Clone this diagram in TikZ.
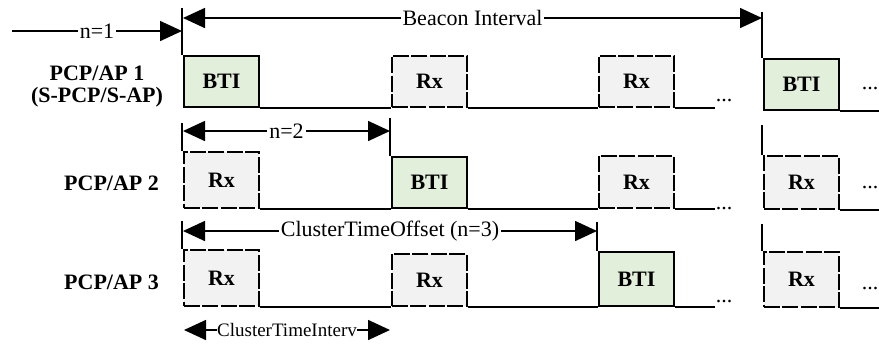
\documentclass[tikz,border=0pt]{standalone}
\usepackage{fontspec}
\setmainfont{Liberation Serif}
\usetikzlibrary{positioning,arrows.meta}

\definecolor{btigreen}{HTML}{E2EFDA}
\definecolor{rxgray}{HTML}{F2F2F2}

\newcommand{\figfont}{\fontsize{11}{13}\selectfont}

\tikzset{
    slot/.style={draw, line width=1pt, minimum width=37.5pt, minimum height=25.5pt,
        anchor=south west, inner sep=0pt, font=\figfont\bfseries},
    bti/.style={slot, fill=btigreen},
    rx/.style={slot, fill=rxgray, dash pattern=on 8pt off 1.2pt},
    timeline/.style={line width=1pt},
    bound/.style={line width=0.8pt},
    spanarrow/.style={line width=0.8pt,
        {Triangle[length=11pt,width=10pt]}-{Triangle[length=11pt,width=10pt]}},
    onearrow/.style={line width=0.8pt, -{Triangle[length=11pt,width=10pt]}},
    spanlabel/.style={midway, fill=white, inner sep=1pt},
    rowlabel/.style={font=\figfont\bfseries, anchor=east},
}

\begin{document}
\begin{tikzpicture}[x=0.5pt, y=-0.5pt, font=\figfont]
    \useasboundingbox (0,0) rectangle (879,344);

    % Row labels
    \node[font=\figfont\bfseries, align=center, inner sep=0pt] (ap1) at (97,87) {PCP/AP 1\\[-2pt](S-PCP/S-AP)};
    \node[rowlabel] (ap2) at (166,183) {PCP/AP 2};
    \node[rowlabel] (ap3) at (166,282) {PCP/AP 3};

    % PCP/AP 1
    \node[bti] (a1) at (183,108) {BTI};
    \node[rx] (a2) at (391,108) {Rx};
    \node[rx] (a3) at (598,108) {Rx};
    \node[bti] (a4) at (763,111) {BTI};
    \coordinate (a3e) at (715,108);
    \coordinate (a4e) at (879,111);
    \draw[timeline] (a1.south east) -- (a2.south west)
        (a2.south east) -- (a3.south west) (a3.south east) -- (a3e);
    \draw[timeline] (a4.south east) -- (a4e);
    \node[anchor=base] (da3) at (724,101) {...};
    \node[anchor=base] (da4) at (870,89) {...};

    % PCP/AP 2
    \node[rx, minimum height=28pt] (b1) at (183,209) {Rx};
    \node[bti] (b2) at (391,209) {BTI};
    \node[rx, minimum height=26pt] (b3) at (598,209) {Rx};
    \node[rx, minimum height=26.5pt] (b4) at (763,210) {Rx};
    \coordinate (b3e) at (715,209);
    \coordinate (b4e) at (879,210);
    \draw[timeline] (b1.south east) -- (b2.south west)
        (b2.south east) -- (b3.south west) (b3.south east) -- (b3e);
    \draw[timeline] (b4.south east) -- (b4e);
    \node[anchor=base] (db3) at (724,209) {...};
    \node[anchor=base] (db4) at (870,188) {...};

    % PCP/AP 3
    \node[rx, minimum height=28pt] (c1) at (183,307) {Rx};
    \node[rx, minimum height=26pt] (c2) at (391,307) {Rx};
    \node[bti, minimum height=27pt] (c3) at (598,307) {BTI};
    \node[rx, minimum height=27.5pt] (c4) at (763,308) {Rx};
    \coordinate (c3e) at (715,307);
    \coordinate (c4e) at (879,308);
    \draw[timeline] (c1.south east) -- (c2.south west)
        (c2.south east) -- (c3.south west) (c3.south east) -- (c3e);
    \draw[timeline] (c4.south east) -- (c4e);
    \node[anchor=base] (dc3) at (724,302) {...};
    \node[anchor=base] (dc4) at (870,289) {...};

    % Boundaries
    \coordinate (ta) at (182,8);
    \coordinate (tb) at (762,12);
    \draw[bound] (ta) -- (ta |- a1.north);
    \draw[bound] (tb) -- (tb |- a4.north);
    \coordinate (tc) at (182,123);
    \coordinate (td) at (390,118);
    \coordinate (te) at (762,125);
    \draw[bound] (tc) -- (tc |- b1.north);
    \draw[bound] (td) -- (td |- b2.north);
    \draw[bound] (te) -- (te |- b4.north);
    \coordinate (tf) at (182,221);
    \coordinate (tg) at (597,222);
    \coordinate (th) at (762,224);
    \draw[bound] (tf) -- (tf |- c1.north);
    \draw[bound] (tg) -- (tg |- c3.north);
    \draw[bound] (th) -- (th |- c4.north);

    % Intervals
    \coordinate (n1) at (12,31);
    \draw[onearrow] (n1) -- (n1 -| ta) node[spanlabel] {n=1};
    \coordinate (bi) at (183,18);
    \draw[spanarrow] (bi) -- (bi -| tb) node[spanlabel] {Beacon Interval};
    \coordinate (n2) at (183,131);
    \draw[spanarrow] (n2) -- (n2 -| td) node[spanlabel] {n=2};
    \coordinate (cto) at (183,231);
    \draw[spanarrow] (cto) -- (cto -| tg) node[spanlabel] {ClusterTimeOffset (n=3)};
    \coordinate (cti) at (184,330);
    \draw[spanarrow] (cti) -- (cti -| td)
        node[spanlabel, inner sep=0pt, font=\fontsize{9.5}{11}\selectfont] {ClusterTimeInterv};
\end{tikzpicture}
\end{document}
